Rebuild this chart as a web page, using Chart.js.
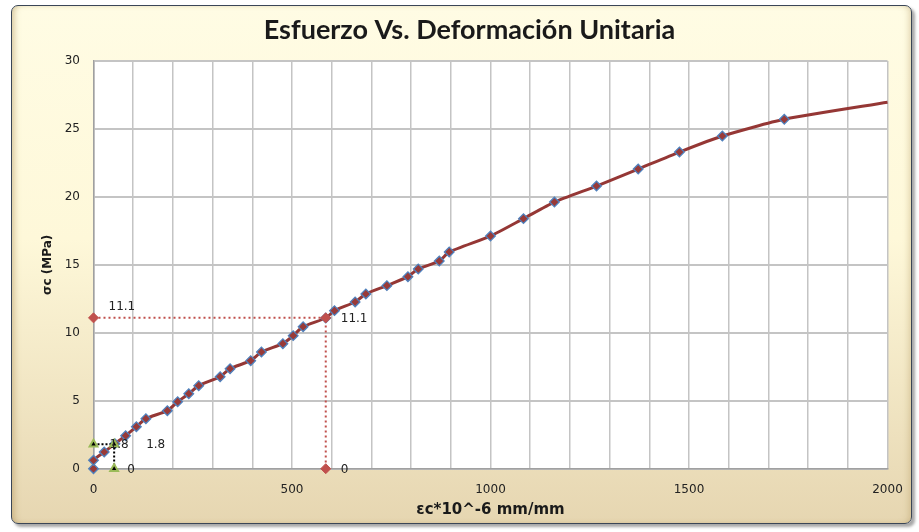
<!DOCTYPE html>
<html><head><meta charset="utf-8">
<script src="https://cdn.jsdelivr.net/npm/chart.js@4"></script>
<style>
html,body{margin:0;padding:0;background:#fff;width:919px;height:532px;overflow:hidden}
#frame{position:absolute;left:11px;top:5px;width:899px;height:517px;border:1.5px solid #3a4657;border-radius:7px;
background:linear-gradient(to bottom,#FFFCE4 0%,#FEF8D9 45%,#E6D6B1 100%);
box-shadow:3px 3px 3px rgba(0,0,0,0.35), inset 5px 0 6px -3px rgba(170,140,80,0.5), inset -5px 0 6px -3px rgba(170,140,80,0.35)}
#wrap{position:absolute;left:0;top:0;width:919px;height:532px}
</style></head><body>
<div id="frame"></div>
<div id="wrap"><canvas id="c" width="919" height="532"></canvas></div>
<script>
// ---- data ----
const strainX = [0, 0, 27, 54, 81, 108, 132, 186, 212, 240, 265, 319, 344, 396, 423, 477, 503, 528, 585, 607, 659, 686, 739, 792, 818, 871, 896, 1000, 1083, 1161, 1267, 1372, 1476, 1584, 1740, 2000];
const stressY = [0, 0.62, 1.23, 1.84, 2.43, 3.09, 3.68, 4.27, 4.93, 5.52, 6.11, 6.77, 7.36, 7.95, 8.59, 9.20, 9.79, 10.45, 11.09, 11.63, 12.27, 12.86, 13.47, 14.13, 14.70, 15.28, 15.95, 17.12, 18.40, 19.62, 20.80, 22.05, 23.30, 24.48, 25.71, 26.96];
const refRedX = [0, 585, 585];
const refRedY = [11.1, 11.1, 0];
const refBlackX = [0, 52, 52];
const refBlackY = [1.8, 1.8, 0];
const xTickLabels = [0, 500, 1000, 1500, 2000];
const yTickLabels = [0, 5, 10, 15, 20, 25, 30];
const titleText = 'Esfuerzo Vs. Deformación Unitaria';
const xTitle = 'εc*10^-6 mm/mm';
const yTitle = 'σc (MPa)';

const toPts = (xs, ys) => xs.map((x, i) => ({x: x, y: ys[i]}));

const plotBg = {
  id: 'plotBg',
  beforeDraw(chart) {
    const {ctx, chartArea: a} = chart;
    ctx.save(); ctx.fillStyle = '#ffffff';
    ctx.fillRect(a.left, a.top, a.right - a.left, a.bottom - a.top);
    ctx.restore();
  }
};
const pointLabels = {
  id: 'pointLabels',
  afterDatasetsDraw(chart, args, opts) {
    const ctx = chart.ctx;
    ctx.save();
    ctx.font = '12px "DejaVu Sans"';
    ctx.fillStyle = '#222';
    ctx.textBaseline = 'middle';
    ctx.textAlign = 'left';
    (opts.sets || []).forEach(s => {
      const meta = chart.getDatasetMeta(s.index);
      const ds = chart.data.datasets[s.index];
      meta.data.forEach((el, i) => {
        const off = s.offsets[i];
        ctx.fillText(String(ds.data[i].y), el.x + off[0], el.y + off[1]);
      });
    });
    ctx.restore();
  }
};

new Chart(document.getElementById('c'), {
  type: 'scatter',
  data: {
    datasets: [
      {
        data: toPts(strainX, stressY), showLine: true, order: 3, clip: false,
        borderColor: '#953735', borderWidth: 3, tension: 0.2,
        pointStyle: 'rectRot',
        pointRadius: c => c.dataIndex === strainX.length - 1 ? 0 : 4.8,
        pointBackgroundColor: '#993A38', pointBorderColor: '#4F81BD', pointBorderWidth: 1.3
      },
      {
        data: toPts(refRedX, refRedY), showLine: true, order: 1, clip: false,
        borderColor: '#C0504D', borderWidth: 2, borderDash: [2, 3],
        pointStyle: 'rectRot', pointRadius: 5,
        pointBackgroundColor: '#C0504D', pointBorderColor: '#C0504D', pointBorderWidth: 1
      },
      {
        data: toPts(refBlackX, refBlackY), showLine: true, order: 2, clip: false,
        borderColor: '#000000', borderWidth: 2, borderDash: [2, 2],
        pointStyle: 'triangle', pointRadius: 4.5,
        pointBackgroundColor: '#000000', pointBorderColor: '#9BBB59', pointBorderWidth: 2
      }
    ]
  },
  options: {
    responsive: false, animation: false,
    layout: {padding: {left: 51.5, right: 31.5, top: 0, bottom: 0}},
    plugins: {
      legend: {display: false}, tooltip: {enabled: false},
      title: {display: true, text: titleText, color: '#1a1a1a',
        font: {family: 'Lato', weight: 'bold', size: 27, lineHeight: 1.2},
        padding: {top: 14.5, bottom: 14.1}},
      pointLabels: {sets: [
        {index: 1, offsets: [[15, -11], [15, 1], [15, 1]]},
        {index: 2, offsets: [[16, 1], [32, 1], [13, 1]]}
      ]}
    },
    scales: {
      x: {
        type: 'linear', min: 0, max: 2000,
        afterFit: a => { a.height = 63.3; },
        grid: {color: '#C4C4C4', lineWidth: 1.5, drawTicks: false},
        border: {display: true, color: '#A0A0A0', width: 1.5},
        ticks: {stepSize: 100, autoSkip: false, maxRotation: 0, padding: 14, color: '#222',
          font: {family: 'DejaVu Sans', size: 12},
          callback: v => xTickLabels.includes(v) ? String(v) : ''},
        title: {display: true, text: xTitle, color: '#1a1a1a',
          font: {family: 'DejaVu Sans', weight: 'bold', size: 15, lineHeight: 1.2},
          padding: {top: 0, bottom: 13}}
      },
      y: {
        min: 0, max: 30,
        afterFit: a => { a.width = 42; },
        grid: {color: '#C4C4C4', lineWidth: 2, drawTicks: false},
        border: {display: true, color: '#A0A0A0', width: 1.5},
        ticks: {stepSize: 5, padding: 13.5, color: '#222',
          font: {family: 'DejaVu Sans', size: 12},
          callback: v => yTickLabels.includes(v) ? String(v) : ''},
        title: {display: true, text: yTitle, color: '#1a1a1a',
          font: {family: 'DejaVu Sans', weight: 'bold', size: 12, lineHeight: 1.2},
          padding: {top: -10.7, bottom: 0}}
      }
    }
  },
  plugins: [plotBg, pointLabels]
});
</script>
</body></html>
